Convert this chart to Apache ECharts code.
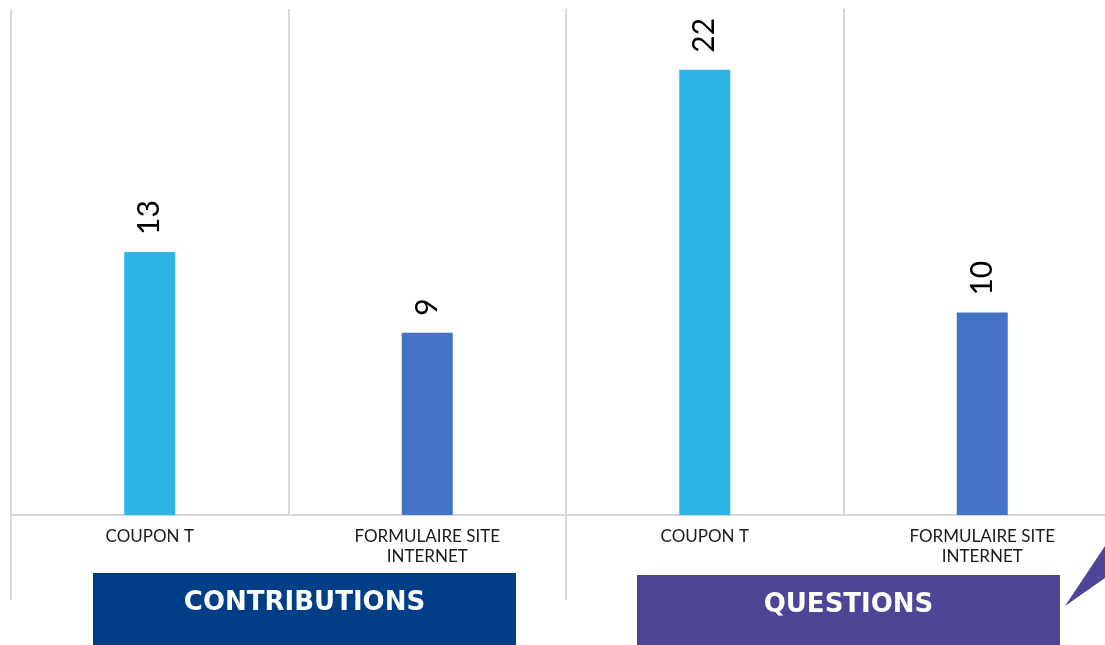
<!DOCTYPE html>
<html>
<head>
<meta charset="utf-8">
<script src="https://cdn.jsdelivr.net/npm/echarts@6/dist/echarts.min.js"></script>
<style>
  html, body { margin: 0; padding: 0; background: #fff; }
  #chart { width: 1105px; height: 645px; }
</style>
</head>
<body>
<div id="chart"></div>
<script>
// data
var categories = ["COUPON T", "FORMULAIRE SITE\nINTERNET", "COUPON T", "FORMULAIRE SITE\nINTERNET"];
var values = [13, 9, 22, 10];
var groups = ["CONTRIBUTIONS", "QUESTIONS"];

var barColors = ["#2EB5E8", "#4472C4"]; // coupon / formulaire
var groupColors = ["#003F87", "#4F4597"];
var gridColor = "#D9D9D9";

var chart = echarts.init(document.getElementById("chart"));

function groupBox(i, left, top) {
  return {
    type: "group",
    left: left,
    top: top,
    children: [
      { type: "rect", shape: { x: 0, y: 0, width: 423, height: 90 }, style: { fill: groupColors[i] } },
      {
        type: "text",
        x: 211.5,
        y: 30,
        style: {
          text: groups[i],
          fill: "#fff",
          font: "bold 26px 'DejaVu Sans'",
          align: "center",
          verticalAlign: "middle"
        }
      }
    ]
  };
}

chart.setOption({
  animation: false,
  grid: {
    left: 11,
    right: -16,
    top: 9,
    bottom: 130,
    outerBoundsMode: "none"
  },
  xAxis: [
    {
      type: "category",
      data: categories,
      axisLine: { lineStyle: { color: gridColor, width: 2 } },
      axisTick: { show: false },
      splitLine: {
        show: true,
        interval: 0,
        lineStyle: { color: gridColor, width: 2 }
      },
      axisLabel: {
        interval: 0,
        margin: 12,
        color: "#1a1a1a",
        fontFamily: "Lato",
        fontSize: 17,
        lineHeight: 20
      }
    },
    {
      // group axis: only its long ticks are drawn, as separators
      type: "category",
      data: groups,
      position: "bottom",
      axisLine: { show: false },
      axisLabel: { show: false },
      axisTick: {
        show: true,
        length: 85,
        lineStyle: { color: gridColor, width: 2 }
      },
      splitLine: { show: false }
    }
  ],
  yAxis: {
    type: "value",
    min: 0,
    max: 25,
    show: false,
    splitLine: { show: false }
  },
  series: [
    {
      type: "bar",
      barWidth: 51,
      data: values.map(function (v, i) {
        return { value: v, itemStyle: { color: barColors[i % 2] } };
      }),
      label: {
        show: true,
        position: "top",
        distance: 17,
        rotate: 90,
        align: "left",
        verticalAlign: "middle",
        color: "#000",
        fontFamily: "Lato",
        fontSize: 30
      }
    }
  ],
  graphic: [
    groupBox(0, 93, 573),
    groupBox(1, 637, 575),
    {
      type: "polygon",
      shape: { points: [[1065, 606], [1105, 546], [1105, 578]] },
      style: { fill: groupColors[1] }
    }
  ]
});
</script>
</body>
</html>
